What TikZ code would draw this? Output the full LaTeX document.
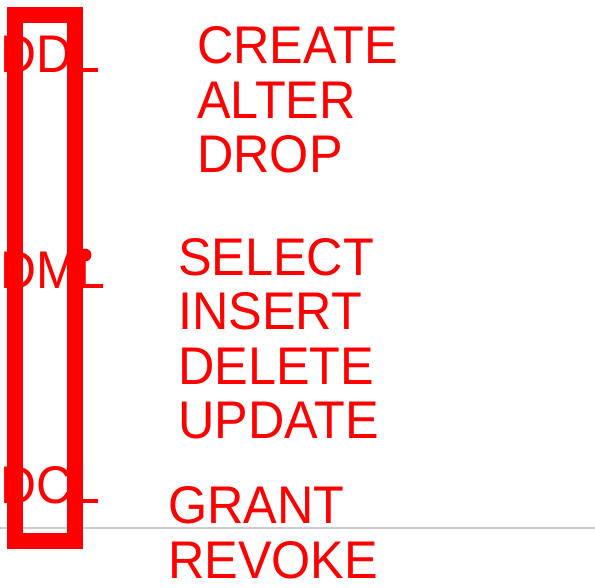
\documentclass[tikz,border=0pt]{standalone}
\usepackage{fontspec}
\setmainfont{Liberation Sans}
\usepackage{tikz}

\begin{document}
\begin{tikzpicture}[x=1pt, y=-1pt,
    kind/.style={anchor=base west, inner sep=0pt, text=red, xscale=0.94, font=\fontsize{53}{53}\selectfont},
    cmds/.style={anchor=base west, inner sep=0pt, text=red, xscale=0.95, align=left, font=\fontsize{53}{54.5}\selectfont}]
  \useasboundingbox (0,0) rectangle (595,587);
  \draw[line width=2pt, gray!40] (0,528) -- (595,528);

  \node[kind] (ddl) at (0,72) {DDL};
  \node[kind] (dml) at (0,288) {DML};
  \node[kind] (dcl) at (0,503) {DCL};

  \node[cmds] (ddlcmds) at (197,172.5) {CREATE\\ALTER\\DROP};
  \node[cmds] (dmlcmds) at (178,438.5) {SELECT\\INSERT\\DELETE\\UPDATE};
  \node[cmds] (dclcmds) at (168,578) {GRANT\\REVOKE};

  \draw[red, line width=16pt] (15,15) rectangle (75,541);
  \fill[red] (85,255) circle (6.5);
\end{tikzpicture}
\end{document}
